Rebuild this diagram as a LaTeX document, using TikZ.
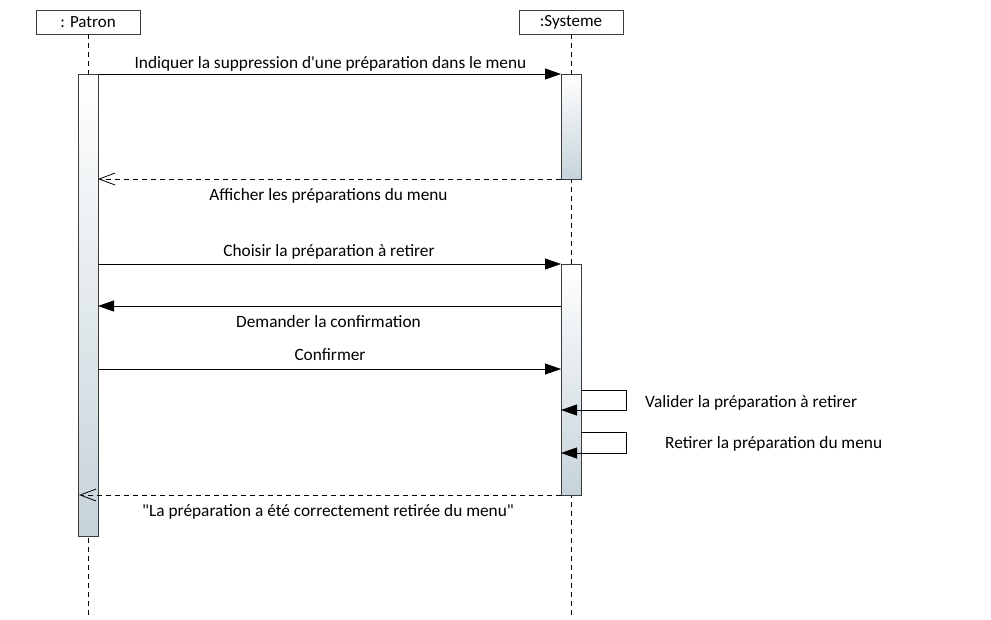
\documentclass[tikz,border=0pt]{standalone}
\usepackage{fontspec}
\setmainfont{Carlito}
\usetikzlibrary{arrows.meta}
\definecolor{actbot}{RGB}{198,211,218}
\definecolor{linegray}{RGB}{60,60,60}
\begin{document}
\begin{tikzpicture}[x=1pt,y=-1pt,
  head/.style={draw=linegray,line width=0.9pt,minimum width=104pt,minimum height=24pt,inner sep=0pt,font=\fontsize{17}{19}\selectfont},
  life/.style={draw=black,line width=0.8pt,dash pattern=on 5pt off 4pt},
  act/.style={draw=linegray,line width=0.9pt,top color=white,bottom color=actbot},
  msg/.style={draw=black,line width=0.8pt,-{Triangle[length=16pt,width=11pt]}},
  ret/.style={draw=black,line width=0.8pt,dash pattern=on 5pt off 4pt,-{Straight Barb[length=16pt,width=12pt,line width=0.8pt]}},
  lbl/.style={font=\fontsize{17.3}{20}\selectfont,inner sep=0pt,anchor=base}]
\useasboundingbox (0,0) rectangle (991,619);
\fill[white] (0,0) rectangle (991,619);
% heads
\node[head] (patron) at (88,22) {: Patron};
\node[head] (systeme) at (571,22) {:Systeme};
\coordinate (pEnd) at (88,619);
\coordinate (sEnd) at (571,619);
\draw[life] (patron.south) -- (pEnd);
\draw[life] (systeme.south) -- (sEnd);
% activations
\draw[act] (78,74) rectangle (98,536);
\draw[act] (561,74) rectangle (581,179);
\draw[act] (561,264) rectangle (581,495);
% coordinates
\coordinate (p1) at (98,74);   \coordinate (s1) at (561,74);
\coordinate (s2) at (561,179); \coordinate (p2) at (98,179);
\coordinate (p3) at (98,264);  \coordinate (s3) at (561,264);
\coordinate (s4) at (561,306); \coordinate (p4) at (98,306);
\coordinate (p5) at (98,369);  \coordinate (s5) at (561,369);
\coordinate (s6) at (561,495); \coordinate (p6) at (79,495);
\coordinate (a1) at (581,390); \coordinate (b1) at (626,390); \coordinate (c1) at (626,410); \coordinate (d1) at (561,410);
\coordinate (a2) at (581,432); \coordinate (b2) at (626,432); \coordinate (c2) at (626,453); \coordinate (d2) at (561,453);
% messages
\draw[msg] (p1) -- (s1);
\draw[ret] (s2) -- (p2);
\draw[msg] (p3) -- (s3);
\draw[msg] (s4) -- (p4);
\draw[msg] (p5) -- (s5);
\draw[msg] (a1) -- (b1) -- (c1) -- (d1);
\draw[msg] (a2) -- (b2) -- (c2) -- (d2);
\draw[ret] (s6) -- (p6);
% labels
\node[lbl] (l1) at (330.5,68) {Indiquer la suppression d\textquotesingle une préparation dans le menu};
\node[lbl] (l2) at (328.5,200) {Afficher les préparations du menu};
\node[lbl] (l3) at (329,256) {Choisir la préparation à retirer};
\node[lbl] (l4) at (328.5,327) {Demander la confirmation};
\node[lbl] (l5) at (330,360) {Confirmer};
\node[lbl,anchor=base west] (l6) at (645,407) {Valider la préparation à retirer};
\node[lbl,anchor=base west] (l7) at (665,448) {Retirer la préparation du menu};
\node[lbl] (l8) at (328,516) {\textquotedbl La préparation a été correctement retirée du menu\textquotedbl};
\end{tikzpicture}
\end{document}
